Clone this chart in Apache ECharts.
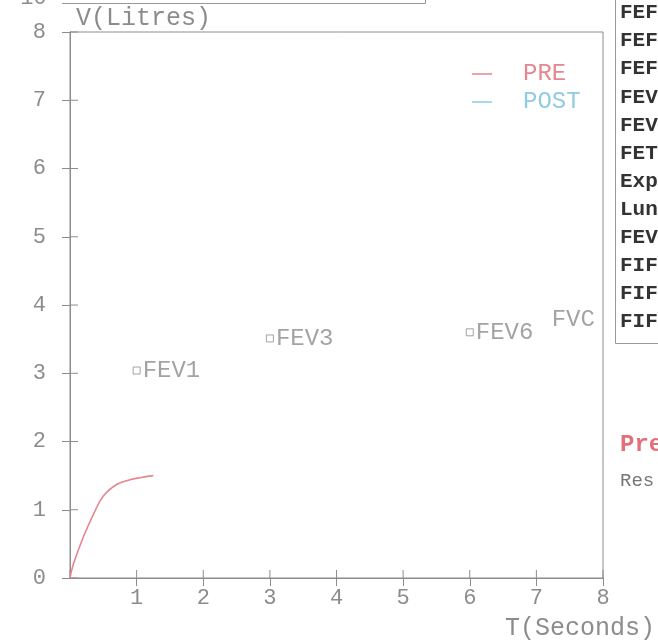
<!DOCTYPE html>
<html><head><meta charset="utf-8">
<script src="https://cdn.jsdelivr.net/npm/echarts@6/dist/echarts.min.js"></script>
<style>html,body{margin:0;padding:0;background:#fff}#c{width:658px;height:641px}</style>
</head><body><div id="c"></div>
<script>
// ---- data ----
const preT = [0, 0.05, 0.2, 0.35, 0.5, 0.7, 0.9, 1.05, 1.25];
const preV = [0, 0.2, 0.6, 0.93, 1.2, 1.37, 1.44, 1.47, 1.5];
const postT = [];
const postV = [];
const markNames = ['FEV1', 'FEV3', 'FEV6', 'FVC'];
const markT = [1, 3, 6, 7.2];
const markV = [3.04, 3.51, 3.6, 3.78];
const markShowSymbol = [true, true, true, false];
const xTicks = [0, 1, 2, 3, 4, 5, 6, 7, 8];
const yTicks = [0, 1, 2, 3, 4, 5, 6, 7, 8];
const tableRows = ['FEF', 'FEF', 'FEF', 'FEV', 'FEV', 'FET', 'Exp', 'Lun', 'FEV', 'FIF', 'FIF', 'FIF'];
const legendNames = ['PRE', 'POST'];
const xName = 'T(Seconds)';
const yName = 'V(Litres)';

const FONT = '"Liberation Mono", "Courier New", monospace';
const GREY = '#8c8c8c';
const PINK = '#e6868f';
const BLUE = '#8fcbe2';
const TICK_IN = 8;

const chart = echarts.init(document.getElementById('c'), null, {renderer: 'canvas'});

const tableGraphics = [
  {type: 'rect', shape: {x: 615.5, y: -2, width: 80, height: 345.5}, style: {fill: 'none', stroke: '#999', lineWidth: 1}},
];
tableRows.forEach((t, i) => {
  tableGraphics.push({type: 'text', x: 620, y: 13 + i * 28.1,
    style: {text: t, font: 'bold 21px ' + FONT, fill: '#333', verticalAlign: 'middle'}});
});

const axisCommon = {
  type: 'value', min: 0, max: 8, interval: 1,
  splitLine: {show: false},
};

// inner half of the crossing ticks, placed through the axes' scales
function innerTick(dir) {
  return function (params, api) {
    const p = api.coord([api.value(0), api.value(1)]);
    const shape = dir === 'x'
      ? {x1: p[0], y1: p[1], x2: p[0], y2: p[1] - TICK_IN}
      : {x1: p[0], y1: p[1], x2: p[0] + TICK_IN, y2: p[1]};
    return {type: 'line', shape: shape, style: {stroke: GREY, lineWidth: 1}};
  };
}

chart.setOption({
  animation: false,
  grid: {left: 70, right: 55, top: 32, bottom: 59, show: true, borderColor: GREY, borderWidth: 1, backgroundColor: 'transparent'},
  legend: {
    data: [
      {name: legendNames[0], textStyle: {color: PINK}},
      {name: legendNames[1], textStyle: {color: BLUE}}
    ],
    orient: 'vertical', left: 472, top: 62, itemGap: 4, padding: 0,
    icon: 'rect', itemWidth: 20, itemHeight: 1.5,
    textStyle: {fontFamily: FONT, fontSize: 24, lineHeight: 24, padding: [0, 0, 0, 26]}
  },
  xAxis: Object.assign({}, axisCommon, {
    position: 'bottom',
    axisLine: {show: true, onZero: false, lineStyle: {color: GREY, width: 1}},
    name: xName, nameLocation: 'end', nameGap: 52,
    nameTextStyle: {fontFamily: FONT, fontSize: 25, color: GREY, align: 'right', verticalAlign: 'top', padding: [38, 0, 0, 0]},
    axisTick: {show: true, inside: false, length: 8, lineStyle: {color: GREY}},
    axisLabel: {fontFamily: FONT, fontSize: 22, color: GREY, margin: 9, showMinLabel: false,
      formatter: v => v === 0 ? '' : String(v)}
  }),
  yAxis: Object.assign({}, axisCommon, {
    position: 'left',
    axisLine: {show: true, onZero: false, lineStyle: {color: GREY, width: 1}},
    name: yName, nameLocation: 'end', nameGap: 1,
    nameTextStyle: {fontFamily: FONT, fontSize: 25, color: GREY, align: 'left', verticalAlign: 'bottom', padding: [0, 0, 0, 6]},
    axisTick: {show: true, inside: false, length: 8, lineStyle: {color: GREY}},
    axisLabel: {fontFamily: FONT, fontSize: 22, color: GREY, margin: 24}
  }),
  series: [
    {name: legendNames[0], type: 'line', smooth: 0.4, showSymbol: false, symbol: 'none',
      data: preT.map((t, i) => [t, preV[i]]),
      lineStyle: {color: PINK, width: 1.6}, itemStyle: {color: PINK}},
    {name: legendNames[1], type: 'line', showSymbol: false, symbol: 'none',
      data: postT.map((t, i) => [t, postV[i]]),
      lineStyle: {color: BLUE, width: 1.6}, itemStyle: {color: BLUE}},
    {name: 'marks', type: 'scatter', symbol: 'rect',
      data: markNames.map((n, i) => ({name: n, value: [markT[i], markV[i]],
        symbolSize: markShowSymbol[i] ? 7 : 0})),
      itemStyle: {color: '#fff', borderColor: GREY, borderWidth: 1},
      label: {show: true, position: 'right', distance: 2, formatter: p => p.name,
        fontFamily: FONT, fontSize: 24, color: GREY},
      emphasis: {disabled: true}},
    {name: 'xInnerTicks', type: 'custom', silent: true, clip: false,
      data: xTicks.map(v => [v, 0]), renderItem: innerTick('x')},
    {name: 'yInnerTicks', type: 'custom', silent: true, clip: false,
      data: yTicks.map(v => [0, v]), renderItem: innerTick('y')}
  ],
  graphic: [
    {type: 'text', x: 7, y: -2, style: {text: '-10', font: '22px ' + FONT, fill: GREY, verticalAlign: 'middle'}},
    {type: 'polyline', shape: {points: [[62, 3.5], [425.5, 3.5], [425.5, -2]]}, style: {stroke: '#999', fill: 'none', lineWidth: 1}},
    {type: 'text', x: 620, y: 445, style: {text: 'Pre', font: 'bold 24px ' + FONT, fill: '#e2707c', verticalAlign: 'middle'}},
    {type: 'text', x: 620, y: 481, style: {text: 'Res', font: '19px ' + FONT, fill: '#777', verticalAlign: 'middle'}}
  ].concat(tableGraphics)
});
</script>
</body></html>
